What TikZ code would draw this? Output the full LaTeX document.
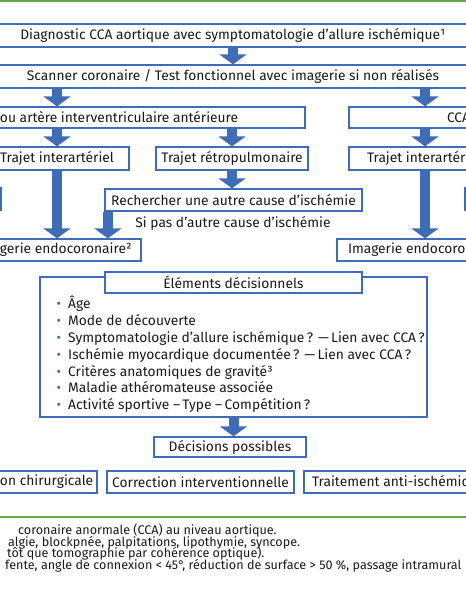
\documentclass[tikz,border=0pt]{standalone}
\usepackage{fontspec}
\setmainfont{Fira Sans}
\usetikzlibrary{arrows.meta,calc}
\definecolor{cblue}{HTML}{3E6DB5}
\definecolor{cgreen}{HTML}{66A844}
\definecolor{ctext}{HTML}{1A1A1A}
\newcommand{\fsz}{\fontsize{13.8}{15}\selectfont}
\newcommand{\ftsz}{\fontsize{12.6}{11.8}\selectfont\lineskiplimit=-20pt\relax}
\newcommand{\bul}{\makebox[12pt][l]{\hspace{0.5pt}\textcolor{cblue}{•}}}
\begin{document}
\begin{tikzpicture}[x=1pt,y=-1pt,
  box/.style={draw=cblue, line width=1.3pt, fill=white, inner sep=0pt, text=ctext, font=\fsz},
  plain/.style={inner sep=0pt, text=ctext, font=\fsz},
  barrow/.style={draw=cblue, line width=10pt, -{Triangle[width=27pt,length=10pt]}},
]
\useasboundingbox (0,0) rectangle (466,600);
\fill[white] (0,0) rectangle (466,600);
\clip (0,0) rectangle (466,600);

% green rules
\draw[cgreen, line width=2.4pt] (-5,0.6) -- (471,0.6);
\draw[cgreen, line width=2pt] (-5,517) -- (471,517);

% boxes
\node[box, minimum width=490pt, minimum height=23pt] (diag) at (233,35.5)
  {Diagnostic CCA aortique avec symptomatologie d’allure ischémique¹};
\node[box, minimum width=490pt, minimum height=23pt] (scan) at (233,76.5)
  {Scanner coronaire / Test fonctionnel avec imagerie si non réalisés};

\node[box, minimum width=325pt, minimum height=21pt] (lad) at (142.5,117.5)
  {\makebox[325pt][l]{\hspace{20pt}ou artère interventriculaire antérieure}};
\node[box, minimum width=152pt, minimum height=21pt] (rca) at (425,117.5)
  {\makebox[152pt][l]{\hspace{98pt}CCA}};

\node[box, minimum width=144pt, minimum height=23pt] (tiaL) at (57,158.5)
  {\makebox[144pt][l]{\hspace{15pt}Trajet interartériel}};
\node[box, minimum width=152pt, minimum height=23pt] (retro) at (232,158.5)
  {Trajet rétropulmonaire};
\node[box, minimum width=152pt, minimum height=23pt] (tiaR) at (425,158.5)
  {\makebox[152pt][l]{\hspace{18pt}Trajet interartériel}};

\node[box, minimum width=31pt, minimum height=22pt] (slL) at (-14.5,199) {};
\node[box, minimum width=30pt, minimum height=22pt] (slR) at (480,199) {};

\node[box, minimum width=257pt, minimum height=22pt] (search) at (233.5,200)
  {Rechercher une autre cause d’ischémie};
\node[plain] (sipas) at (233,223) {Si pas d’autre cause d’ischémie};

\node[box, minimum width=161pt, minimum height=22pt] (imgL) at (60.5,250)
  {\makebox[161pt][l]{\hspace{20pt}gerie endocoronaire²}};
\node[box, minimum width=176pt, minimum height=22pt] (imgR) at (425,250)
  {\makebox[176pt][l]{\hspace{11pt}Imagerie endocoronaire²}};

\node[box, minimum width=387pt, minimum height=140pt] (elem) at (233.5,347) {};
\node[box, minimum width=257pt, minimum height=21pt] (title) at (233.5,282.5)
  {Éléments décisionnels};
\node[plain, anchor=north west, align=left, font=\fontsize{13.8}{16.8}\selectfont] (list) at (56,296)
  {\bul Âge\\
   \bul Mode de découverte\\
   \bul Symptomatologie d’allure ischémique\,? —\,Lien avec CCA\,?\\
   \bul Ischémie myocardique documentée\,? —\,Lien avec CCA\,?\\
   \bul Critères anatomiques de gravité³\\
   \bul Maladie athéromateuse associée\\
   \bul Activité sportive –\,Type –\,Compétition\,?};

\node[box, minimum width=152pt, minimum height=20pt] (dec) at (230,447) {Décisions possibles};

\node[box, minimum width=117pt, minimum height=22pt] (chir) at (38.5,482)
  {\makebox[117pt][l]{\hspace{20pt}on chirurgicale}};
\node[box, minimum width=187pt, minimum height=22pt] (interv) at (200.5,482)
  {Correction interventionnelle};
\node[box, minimum width=186pt, minimum height=22pt] (anti) at (397,482)
  {\makebox[186pt][l]{\hspace{8pt}Traitement anti-ischémique}};

% footnotes
\node[plain, anchor=north west, align=left, font=\ftsz] (notes) at (0,523.5)
  {\hspace*{18pt}coronaire anormale (CCA) au niveau aortique.\\
   \hspace*{8pt}algie, blockpnée, palpitations, lipothymie, syncope.\\
   \hspace*{7pt}tôt que tomographie par cohérence optique).\\
   \hspace*{5pt}fente, angle de connexion < 45°, réduction de surface > 50 \%, passage intramural};

% arrows
\draw[barrow] (diag.south) -- (scan.north);
\draw[barrow] (scan.south -| tiaL.north) -- (lad.north -| tiaL.north);
\draw[barrow] (scan.south -| rca.north) -- (rca.north);
\draw[barrow] (lad.south -| tiaL.north) -- (tiaL.north);
\draw[barrow] (lad.south -| retro.north) -- (retro.north);
\draw[barrow] (rca.south) -- (tiaR.north);
\draw[barrow] (tiaL.south) -- (tiaL.south |- imgL.north);
\draw[barrow] (retro.south) -- (retro.south |- search.north);
\draw[barrow] ([xshift=3.5pt]search.south west) -- ([xshift=3.5pt]search.south west |- imgL.north);
\draw[barrow] (tiaR.south) -- (tiaR.south |- imgR.north);
\draw[barrow] (elem.south) -- (elem.south |- dec.north);
\end{tikzpicture}
\end{document}
